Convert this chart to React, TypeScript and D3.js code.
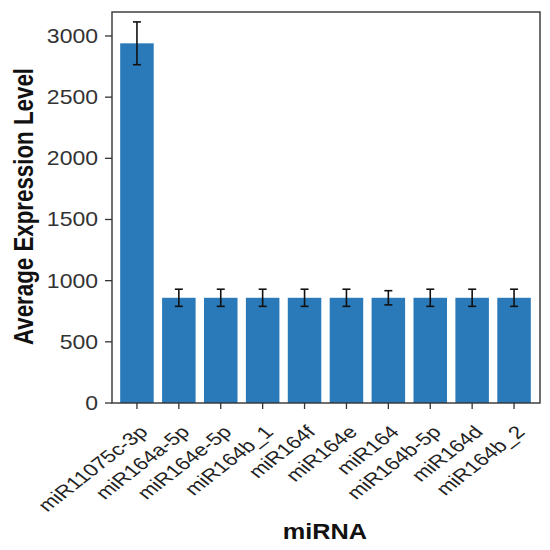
import React from "react";
import * as d3 from "d3";

const categories = [
  "miR11075c-3p",
  "miR164a-5p",
  "miR164e-5p",
  "miR164b_1",
  "miR164f",
  "miR164e",
  "miR164",
  "miR164b-5p",
  "miR164d",
  "miR164b_2",
];
const means = [2940, 860, 860, 860, 860, 860, 860, 860, 860, 860];
const errors = [175, 70, 70, 70, 70, 70, 58, 70, 70, 70];
const yTicks = [0, 500, 1000, 1500, 2000, 2500, 3000];

const W = 550;
const H = 550;
const left = 112;
const right = 540;
const top = 12;
const bottom = 403;
const SX = 1.15;
const SXL = 1.28;
const FONT = "'Liberation Sans', Arial, sans-serif";
const BAR = "#2a7ab9";
const AXIS = "#333333";

export default function App() {
  const x = d3
    .scaleBand<string>()
    .domain(categories)
    .range([116, 535])
    .paddingInner(0.2)
    .paddingOuter(0.1);
  const y = d3.scaleLinear().domain([0, 3196]).range([bottom, top]);
  const bw = x.bandwidth();
  const cap = 4;

  return (
    <svg
      width={W}
      height={H}
      style={{ position: "absolute", left: 0, top: 0, background: "#fff" }}
    >
      <rect x={0} y={0} width={W} height={H} fill="#fff" />
      {categories.map((c, i) => (
        <rect
          key={c}
          x={x(c)}
          y={y(means[i])}
          width={bw}
          height={y(0) - y(means[i])}
          fill={BAR}
        />
      ))}
      {categories.map((c, i) => {
        const cx = (x(c) as number) + bw / 2;
        const y1 = y(means[i] + errors[i]);
        const y2 = y(means[i] - errors[i]);
        return (
          <g key={"e" + c} stroke="#111" strokeWidth={1.6}>
            <line x1={cx} x2={cx} y1={y1} y2={y2} />
            <line x1={cx - cap} x2={cx + cap} y1={y1} y2={y1} />
            <line x1={cx - cap} x2={cx + cap} y1={y2} y2={y2} />
          </g>
        );
      })}
      <rect
        x={left}
        y={top}
        width={right - left}
        height={bottom - top}
        fill="none"
        stroke={AXIS}
        strokeWidth={1.4}
      />
      {yTicks.map((t) => (
        <g key={"y" + t}>
          <line x1={left - 7} x2={left} y1={y(t)} y2={y(t)} stroke={AXIS} strokeWidth={1.3} />
          <text
            transform={`translate(98,${y(t)}) scale(${SX},1)`}
            textAnchor="end"
            dy="0.35em"
            fontFamily={FONT}
            fontSize={20}
            fill="#333"
          >
            {t}
          </text>
        </g>
      ))}
      {categories.map((c) => {
        const cx = (x(c) as number) + bw / 2;
        return (
          <g key={"x" + c}>
            <line x1={cx} x2={cx} y1={bottom} y2={bottom + 6} stroke={AXIS} strokeWidth={1.3} />
            <text
              transform={`translate(${cx + 12},${bottom + 30}) scale(${SXL},1) rotate(-45)`}
              textAnchor="end"
              fontFamily={FONT}
              fontSize={17.5}
              fill="#222"
            >
              {c}
            </text>
          </g>
        );
      })}
      <text
        transform={`translate(33,206.5) scale(1.25,1) rotate(-90)`}
        textAnchor="middle"
        fontFamily={FONT}
        fontWeight="bold"
        fontSize={22}
        textLength={277}
        lengthAdjust="spacingAndGlyphs"
        fill="#111"
      >
        Average Expression Level
      </text>
      <text
        transform={`translate(325,539) scale(${SX},1)`}
        textAnchor="middle"
        fontFamily={FONT}
        fontWeight="bold"
        fontSize={22}
        fill="#111"
      >
        miRNA
      </text>
    </svg>
  );
}
